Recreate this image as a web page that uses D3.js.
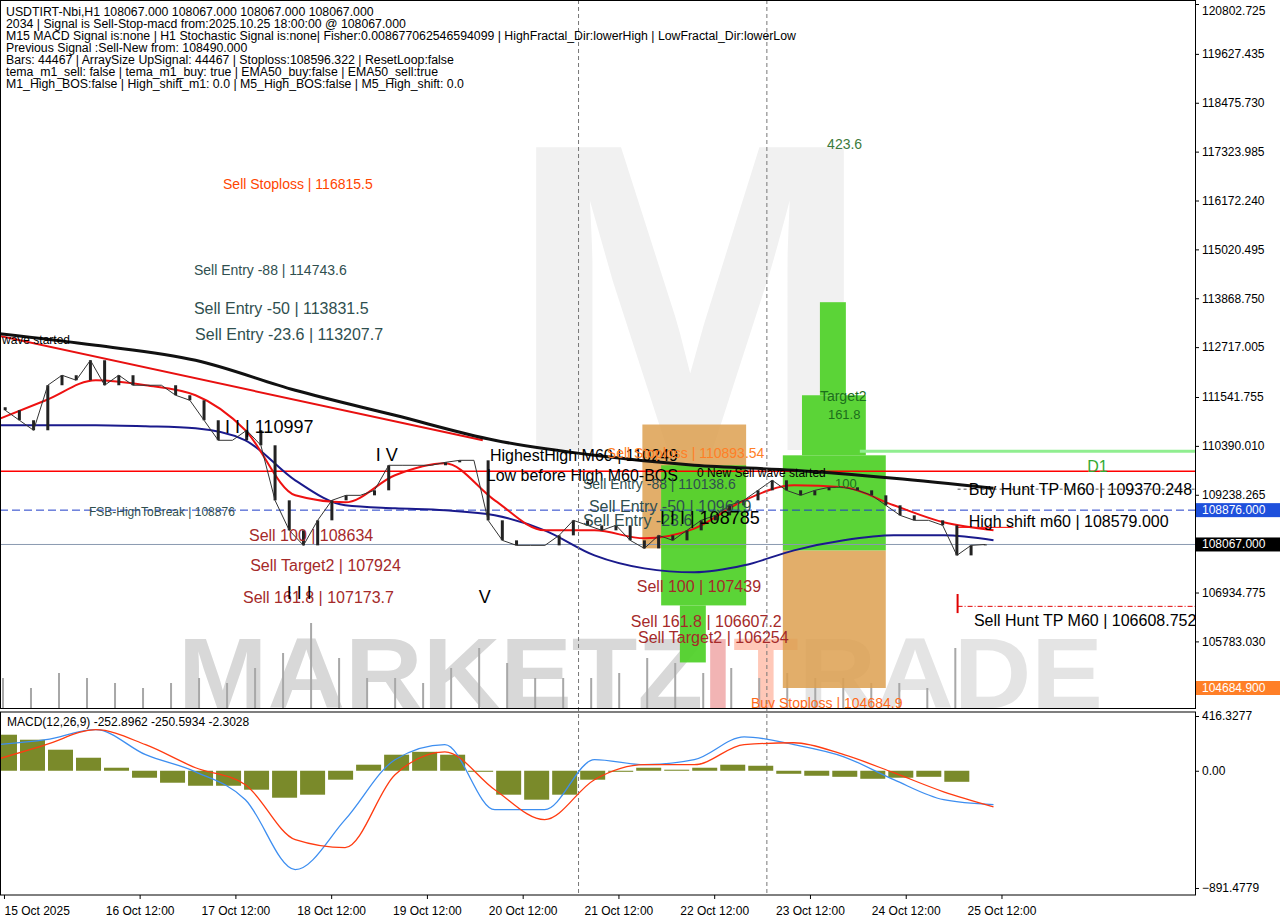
<!DOCTYPE html>
<html>
<head>
<meta charset="utf-8">
<script src="https://cdn.jsdelivr.net/npm/d3@7"></script>
<style>
body { margin: 0; background: #fff; }
svg { font-family: "Liberation Sans", Arial, sans-serif; }
</style>
</head>
<body>
<svg id="chart" width="1280" height="920"></svg>
<script>
// closes, ~3.56 h apart starting at hour 2.3 (hour 0 = 15 Oct 00:00)
const closes = [111230,110994,110758,111819,112055,111937,112408,111819,112055,111819,111819,111819,111583,111465,
  110994,110522,110522,110758,110404,109107,108400,108046,108636,109107,109225,109225,109343,109933,109933,109933,
  109933,110003,110050,110050,108636,108164,108046,108046,108046,108282,108636,108518,108400,108518,108164,107975,
  108282,108164,108400,108636,108754,108990,109107,109343,109579,109343,109225,109343,109414,109414,109343,109225,
  108990,108754,108636,108636,108518,107810,108046,108067];
const blackMA = [113045,112762,112408,111701,111111,110522,110168,109933,109815,109626,109390]; // every 25 h
const navyMA = [110876,110876,110876,110852,110805,110522,109579,108989,108918,108871,108754,108400,107810,107504,
  107410,107575,107928,108164,108282,108282,108164]; // every 12.5 h
const redMA = [110994,111465,111937,111819,111583,110758,109225,109060,109697,109980,109107,108400,108400,108211,
  108441,109107,109461,109414,108990,108589,108400];
const macdMain = [198,236,312,122,-8,-220,-752,-372,84,198,-296,-296,84,46,84,258,198,106,-68,-220,-258];
const macdSignal = [84,198,312,198,23,-106,-524,-585,-30,144,-144,-372,-68,46,46,198,213,122,-15,-160,-274];
const macdHist = [274,236,160,99,23,-53,-91,-114,-114,-144,-205,-182,-68,46,122,144,122,-8,-182,-220,-182,-68,-8,
  23,8,23,46,38,-23,-38,-46,-61,-53,-46,-84]; // every 7 h
const volumes = [30,20,35,30,25,20,25,30,25,40,55,85,50,30,30,25,40,60,45,30,30,30,35,50,45,35,40,30,35,30,30,25,25,20,60];
const priceTicks = [120802.725,119627.435,118475.730,117323.985,116172.240,115020.495,113868.750,112717.005,
  111541.755,110390.010,109238.265,106934.775,105783.030];
const timeTicks = [2,36,60,84,108,132,156,180,204,228,252];
const timeLabels = ["15 Oct 2025","16 Oct 12:00","17 Oct 12:00","18 Oct 12:00","19 Oct 12:00","20 Oct 12:00",
  "21 Oct 12:00","22 Oct 12:00","23 Oct 12:00","24 Oct 12:00","25 Oct 12:00"];
const zones = [ // [h0, h1, top, bottom, kind]
  [162,188,110893.54,107975,"o"],[166.7,188,109933,106631,"g"],[171.4,177.9,106631,105287,"g"],
  [197.2,223,107928,104684.9,"o"],[197.2,223,110168,107928,"g"],[202,218,111583,110168,"g"],[206.5,213,113776,111583,"g"]
];
const headerLines = [
  "USDTIRT-Nbi,H1  108067.000 108067.000 108067.000 108067.000",
  "2034 | Signal is Sell-Stop-macd from:2025.10.25 18:00:00 @ 108067.000",
  "M15 MACD Signal is:none | H1 Stochastic Signal is:none| Fisher:0.008677062546594099 | HighFractal_Dir:lowerHigh | LowFractal_Dir:lowerLow",
  "Previous Signal :Sell-New from: 108490.000",
  "Bars: 44467 | ArraySize UpSignal: 44467 | Stoploss:108596.322 | ResetLoop:false",
  "tema_m1_sell: false | tema_m1_buy: true | EMA50_buy:false | EMA50_sell:true",
  "M1_High_BOS:false | High_shift_m1: 0.0 | M5_High_BOS:false | M5_High_shift: 0.0"
];
// [text, hour, price, colour, size]
const labels = [
  ["Sell Stoploss | 116815.5",56.9,116650,"#ff4500",14],
  ["423.6",208.3,117600,"#3c7a3c",14],
  ["Sell Entry -88 | 114743.6",49.6,114630,"#2f4f4f",14],
  ["Sell Entry -50 | 113831.5",49.6,113700,"#2f4f4f",16],
  ["Sell Entry -23.6 | 113207.7",49.9,113090,"#2f4f4f",16],
  ["wave started",1.5,113010,"#000",12],
  ["I I | 110997",57.4,110900,"#000",18],
  ["I V",95.2,110250,"#000",18],
  ["HighestHigh   M60 | 110249",123.8,110250,"#000",16],
  ["Low before High   M60-BOS",123,109780,"#000",16],
  ["Sell Stoploss | 110893.54",153.1,110320,"#ff7f27",14],
  ["Sell Entry -88 | 110138.6",147.1,109590,"#2f4f4f",14],
  ["0 New Sell wave started",175.7,109860,"#000",12],
  ["Target2",206.5,111650,"#1c6e1c",14],
  ["161.8",208.5,111230,"#1c6e1c",13],
  ["100",210.3,109600,"#1c6e1c",13],
  ["D1",273.5,109990,"#33aa33",16],
  ["Buy Hunt TP M60 | 109370.248",243.8,109450,"#000",16],
  ["High shift m60 | 108579.000",243.8,108690,"#000",16],
  ["Sell Entry -50 | 109619",148.6,109050,"#2f4f4f",16],
  ["Sell Entry -23.6",147.1,108720,"#2f4f4f",16],
  ["I I I | 108785",166.4,108750,"#000",18],
  ["FSB-HighToBreak | 108876",23.3,108940,"#2f4f4f",12],
  ["Sell 100 | 108634",63.4,108360,"#a52a2a",16],
  ["Sell Target2 | 107924",63.7,107650,"#a52a2a",16],
  ["Sell 161.8 | 107173.7",61.9,106900,"#a52a2a",16],
  ["I I I",72.9,107000,"#000",18],
  ["V",121,106900,"#000",18],
  ["Sell 100 | 107439",160.6,107150,"#a52a2a",16],
  ["Sell 161.8 | 106607.2",159.1,106330,"#a52a2a",16],
  ["Sell Target2 | 106254",160.9,105960,"#a52a2a",16],
  ["Sell Hunt TP M60 | 106608.752",245.1,106350,"#000",16],
  ["Buy Stoploss | 104684.9",189.2,104420,"#ff6a1a",14]
];

const svg = d3.select("#chart");
const W = 1195, mainBot = 708, macdTop = 712, macdBot = 895;
const x = d3.scaleLinear().domain([0, 250]).range([-4, 993.5]);
const y = d3.scaleLinear().domain([104684.9, 120802.725]).range([688, 4]);
const ym = d3.scaleLinear().domain([-891.48, 416.33]).range([888, 716]);
const closeH = (d, i) => 2.3 + i * 3.56;

svg.append("rect").attr("width", 1280).attr("height", 920).attr("fill", "#fff");
svg.append("defs").html(`<clipPath id="cm"><rect x="0" y="0" width="${W}" height="${mainBot}"/></clipPath>
<clipPath id="cd"><rect x="0" y="${macdTop}" width="${W}" height="${macdBot - macdTop}"/></clipPath>`);
const g = svg.append("g").attr("clip-path", "url(#cm)");

// watermark
g.append("text").attr("x", 690).attr("y", 450).attr("text-anchor", "middle").attr("font-size", 440)
  .attr("font-weight", "bold").attr("fill", "#f1f1f1").text("M");
const wm = g.append("text").attr("x", 178).attr("y", 708).attr("font-size", 100).attr("font-weight", "bold")
  .attr("textLength", 925).attr("lengthAdjust", "spacingAndGlyphs");
wm.append("tspan").attr("fill", "#d8d8d8").text("MARKETZ");
wm.append("tspan").attr("fill", "#f2b4b4").text("I");
wm.append("tspan").attr("fill", "#ffc8b8").text("T");
wm.append("tspan").attr("fill", "#e4e4e4").text("RADE");

// volumes
const vy = d3.scaleLinear().domain([0, 100]).range([708, 608]);
g.selectAll(".vol").data(volumes).enter().append("rect")
  .attr("x", (d, i) => x(1.75 + i * 7.02) - 1).attr("width", 2)
  .attr("y", d => vy(d)).attr("height", d => 708 - vy(d)).attr("fill", "#a8a8a8");

// zones
g.selectAll(".zone").data(zones).enter().append("rect")
  .attr("x", d => x(d[0])).attr("width", d => x(d[1]) - x(d[0]))
  .attr("y", d => y(d[2])).attr("height", d => y(d[3]) - y(d[2]))
  .attr("fill", d => d[4] === "o" ? "#dda050" : "#52d22c").attr("opacity", d => d[4] === "o" ? 0.85 : 0.95);

// horizontal levels
const hline = (p, h0, color, w, dash) => g.append("line").attr("x1", h0 === null ? 0 : x(h0)).attr("x2", W)
  .attr("y1", y(p)).attr("y2", y(p)).attr("stroke", color).attr("stroke-width", w).attr("stroke-dasharray", dash);
hline(109790, null, "#ff0000", 1.5, null);
hline(108876, null, "#1e3cc8", 1, "8,4");
hline(108067, null, "#8a9ab0", 1, null);
hline(110262, 216.5, "#90ee90", 3, null);
hline(109370.248, 241, "#555", 1, "3,3");
hline(106608.752, 241, "#e00000", 1, "5,2,1,2");
g.append("line").attr("x1", x(241)).attr("x2", x(255)).attr("y1", y(108470)).attr("y2", y(108470)).attr("stroke", "#ff0000");
g.append("line").attr("x1", x(241)).attr("x2", x(241)).attr("y1", y(106900)).attr("y2", y(106450)).attr("stroke", "#e00000").attr("stroke-width", 2);

// vertical session lines
[146, 193.2].forEach(h => svg.append("line").attr("x1", x(h)).attr("x2", x(h)).attr("y1", 0).attr("y2", macdBot)
  .attr("stroke", "#777").attr("stroke-dasharray", "4,3"));

// trend line
g.append("line").attr("x1", x(0)).attr("y1", y(112998)).attr("x2", x(122)).attr("y2", y(110522))
  .attr("stroke", "#e81010").attr("stroke-width", 2);

// moving averages
const maLine = (arr, step) => d3.line().curve(d3.curveMonotoneX).x((d, i) => x(i * step)).y(d => y(d))(arr);
g.append("path").attr("d", maLine(blackMA, 25)).attr("fill", "none").attr("stroke", "#111").attr("stroke-width", 3);
g.append("path").attr("d", maLine(navyMA, 12.5)).attr("fill", "none").attr("stroke", "#1a1a8c").attr("stroke-width", 2);
g.append("path").attr("d", maLine(redMA, 12.5)).attr("fill", "none").attr("stroke", "#ee1111").attr("stroke-width", 2);

// price bars
g.selectAll(".bar").data(closes).enter().append("line")
  .attr("x1", (d, i) => x(closeH(d, i))).attr("x2", (d, i) => x(closeH(d, i)))
  .attr("y1", (d, i) => y(i ? closes[i - 1] : d) + (i ? 0 : -3)).attr("y2", d => y(d))
  .attr("stroke", "#222").attr("stroke-width", 3);
g.append("path").attr("d", d3.line().x((d, i) => x(closeH(d, i))).y(d => y(d))(closes))
  .attr("fill", "none").attr("stroke", "#333").attr("stroke-width", 1);

// chart labels
g.selectAll(".lbl").data(labels).enter().append("text")
  .attr("x", d => x(d[1])).attr("y", d => y(d[2]) + 9).attr("fill", d => d[3]).attr("font-size", d => d[4]).text(d => d[0]);

// header
svg.selectAll(".hdr").data(headerLines).enter().append("text")
  .attr("x", 6).attr("y", (d, i) => 16 + i * 12).attr("font-size", 12.3).attr("fill", "#000").text(d => d);

// MACD panel
const md = svg.append("g").attr("clip-path", "url(#cd)");
md.selectAll(".hist").data(macdHist).enter().append("rect")
  .attr("x", (d, i) => x(1.75 + i * 7.02) - 11).attr("width", 25)
  .attr("y", d => ym(Math.max(0, d))).attr("height", d => Math.abs(ym(d) - ym(0))).attr("fill", "#7a8a2a");
const mLine = arr => d3.line().curve(d3.curveMonotoneX).x((d, i) => x(i * 12.5)).y(d => ym(d))(arr);
md.append("path").attr("d", mLine(macdMain)).attr("fill", "none").attr("stroke", "#3d8ef0").attr("stroke-width", 1.3);
md.append("path").attr("d", mLine(macdSignal)).attr("fill", "none").attr("stroke", "#ff3b10").attr("stroke-width", 1.3);
svg.append("text").attr("x", 7).attr("y", 726).attr("font-size", 12).text("MACD(12,26,9) -252.8962 -250.5934 -2.3028");

// frames
svg.append("rect").attr("x", 0.5).attr("y", 0.5).attr("width", W).attr("height", mainBot).attr("fill", "none").attr("stroke", "#000");
svg.append("rect").attr("x", 0.5).attr("y", macdTop).attr("width", W).attr("height", macdBot - macdTop).attr("fill", "none").attr("stroke", "#000");

// price axis
const pa = svg.append("g").attr("transform", `translate(${W},0)`)
  .call(d3.axisRight(y).tickValues(priceTicks).tickSize(4).tickFormat(d3.format(".3f")));
pa.select(".domain").remove();
pa.selectAll("text").attr("font-size", 12).attr("font-family", "Liberation Sans, Arial").attr("x", 7)
  .attr("dy", (d, i) => i === 0 ? "0.9em" : "0.32em");
const tag = (p, bg) => {
  svg.append("rect").attr("x", W + 1).attr("y", y(p) - 7).attr("width", 84).attr("height", 14).attr("fill", bg);
  svg.append("text").attr("x", W + 7).attr("y", y(p) + 4).attr("font-size", 12).attr("fill", "#fff").text(d3.format(".3f")(p));
};
tag(108876, "#1e50dc");
tag(108067, "#000");
tag(104684.9, "#ff7f27");

// macd axis
const ma = svg.append("g").attr("transform", `translate(${W},0)`)
  .call(d3.axisRight(ym).tickValues([416.3277, 0, -891.4779]).tickSize(4).tickFormat(d => d === 0 ? "0.00" : d3.format(".4f")(d)));
ma.select(".domain").remove();
ma.selectAll("text").attr("font-size", 12).attr("font-family", "Liberation Sans, Arial").attr("x", 7);

// time axis
const ta = svg.append("g").attr("transform", `translate(0,${macdBot})`)
  .call(d3.axisBottom(x).tickValues(timeTicks).tickSize(4).tickFormat((d, i) => timeLabels[i]));
ta.select(".domain").remove();
ta.selectAll("text").attr("font-size", 12).attr("font-family", "Liberation Sans, Arial").attr("dy", "1.1em")
  .attr("text-anchor", (d, i) => i === 0 ? "start" : "middle");
</script>
</body>
</html>
